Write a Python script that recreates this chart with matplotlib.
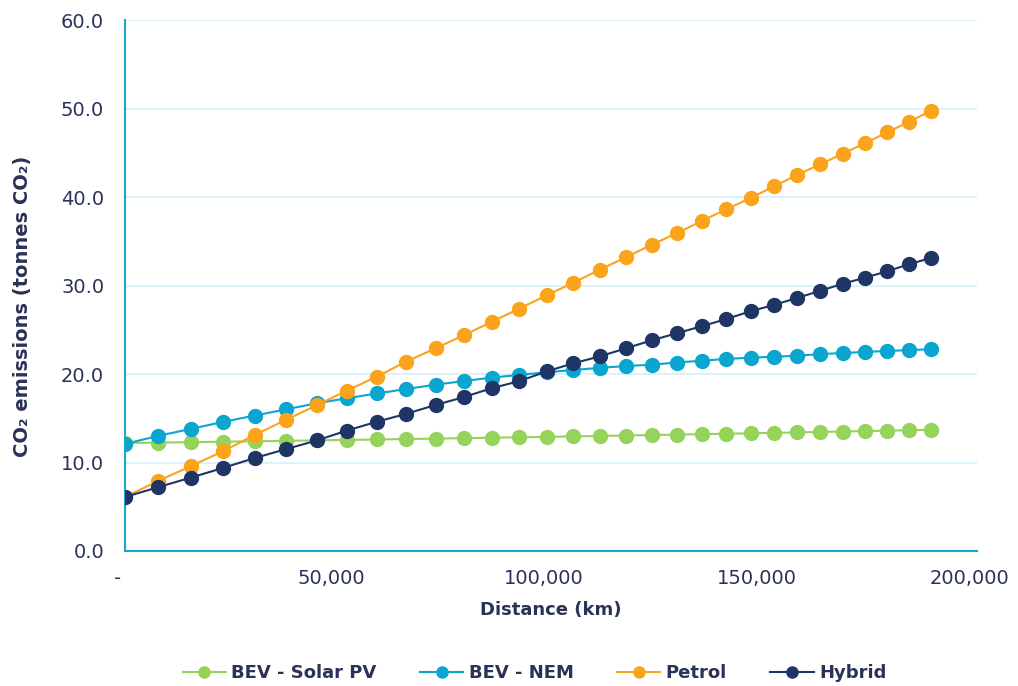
import matplotlib.pyplot as plt
from matplotlib.ticker import FuncFormatter
from matplotlib.transforms import ScaledTranslation

plt.rcParams['font.family'] = ['DejaVu Sans']

# Distance travelled (km) at each point
distance = [0, 7700, 15500, 23100, 30400, 37700, 45100, 52000, 59100, 66000,
            72900, 79600, 86100, 92600, 99000, 105200, 111500, 117600, 123600,
            129500, 135400, 141100, 146900, 152300, 157800, 163200, 168500,
            173800, 178900, 184000, 189100]

# Cumulative CO2 emissions (tonnes)
bev_solar = [12.2, 12.25, 12.3, 12.35, 12.4, 12.45, 12.5, 12.55, 12.6, 12.65,
             12.7, 12.75, 12.8, 12.85, 12.9, 12.95, 13.0, 13.05, 13.1, 13.15,
             13.2, 13.25, 13.3, 13.35, 13.4, 13.45, 13.5, 13.55, 13.6, 13.65, 13.7]
bev_nem = [12.1, 13.0, 13.8, 14.6, 15.3, 16.0, 16.7, 17.25, 17.8, 18.3,
           18.8, 19.2, 19.6, 19.9, 20.2, 20.45, 20.7, 20.9, 21.05, 21.3,
           21.5, 21.7, 21.85, 21.95, 22.07, 22.25, 22.37, 22.5, 22.6, 22.7, 22.8]
petrol = [6.1, 7.9, 9.6, 11.3, 13.1, 14.8, 16.5, 18.1, 19.7, 21.4,
          22.9, 24.4, 25.9, 27.4, 28.9, 30.3, 31.8, 33.2, 34.6, 35.9,
          37.3, 38.6, 39.9, 41.2, 42.5, 43.7, 44.9, 46.1, 47.3, 48.5, 49.7]
hybrid = [6.1, 7.2, 8.3, 9.4, 10.5, 11.5, 12.5, 13.6, 14.6, 15.5,
          16.5, 17.4, 18.4, 19.2, 20.3, 21.2, 22.0, 22.9, 23.8, 24.6,
          25.4, 26.2, 27.1, 27.8, 28.6, 29.4, 30.2, 30.9, 31.6, 32.4, 33.1]

series = [
    ("BEV - Solar PV", bev_solar, "#95d35a"),
    ("BEV - NEM", bev_nem, "#0aa6cf"),
    ("Petrol", petrol, "#fba31a"),
    ("Hybrid", hybrid, "#1f3566"),
]

text_color = "#2a3257"
axis_color = "#1aa7ce"

fig = plt.figure(figsize=(10.18, 6.86), dpi=100)
ax = fig.add_axes([0.1228, 0.1968, 0.8369, 0.774])

for name, values, color in series:
    ax.plot(distance, values, color=color, lw=1.5, marker="o", markersize=10,
            markeredgecolor=color, label=name, zorder=3)

ax.set_xlim(0, 200000)
ax.set_ylim(0, 60)
ax.set_xticks([0, 50000, 100000, 150000, 200000])
ax.set_yticks(range(0, 61, 10))
ax.xaxis.set_major_formatter(FuncFormatter(lambda v, p: "-" if v == 0 else f"{v:,.0f}"))
ax.yaxis.set_major_formatter(FuncFormatter(lambda v, p: f"{v:.1f}"))

ax.grid(axis="y", color="#d4f0f9", lw=1.2, zorder=0)
ax.set_axisbelow(True)
for side in ["top", "right"]:
    ax.spines[side].set_visible(False)
for side in ["left", "bottom"]:
    ax.spines[side].set_color(axis_color)
    ax.spines[side].set_linewidth(1.5)

ax.tick_params(length=0, labelsize=14, labelcolor=text_color)
ax.tick_params(axis="x", pad=13)
ax.tick_params(axis="y", pad=15)
# x labels sit a little left of their ticks in the original
shift = ScaledTranslation(-7 / 100, 0, fig.dpi_scale_trans)
for lbl in ax.get_xticklabels():
    lbl.set_transform(lbl.get_transform() + shift)

ax.set_xlabel("Distance (km)", fontsize=13, fontweight="bold", color=text_color, labelpad=9)
ax.set_ylabel("CO\u2082 emissions (tonnes CO\u2082)", fontsize=14, fontweight="bold",
              color=text_color)
ax.yaxis.set_label_coords(-0.109, 0.46)

leg = fig.legend(loc="lower center", bbox_to_anchor=(0.525, -0.018), ncol=4, frameon=False,
                 fontsize=13, handlelength=2.4, columnspacing=2.4, handletextpad=0.3,
                 markerscale=0.8)
for t in leg.get_texts():
    t.set_color(text_color)
    t.set_fontweight("bold")

fig.savefig("out.png", dpi=100)
